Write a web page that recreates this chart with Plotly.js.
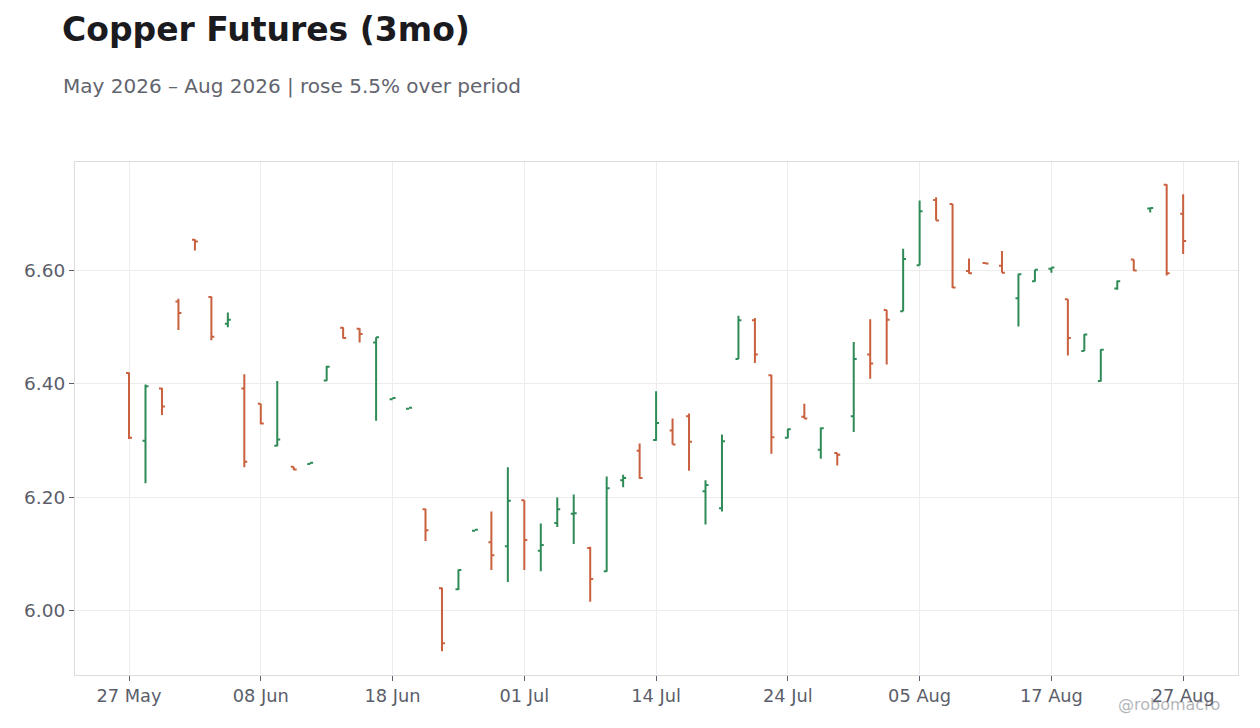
<!DOCTYPE html>
<html>
<head>
<meta charset="utf-8">
<script src="https://cdn.plot.ly/plotly-3.0.1.min.js"></script>
<style>
  html, body { margin: 0; padding: 0; background: #ffffff; }
  #chart { width: 1260px; height: 728px; }
</style>
</head>
<body>
<div id="chart"></div>
<script>
// Trading days (weekends and holidays skipped)
const dates = [
  '2026-05-27', '2026-05-28', '2026-05-29',
  '2026-06-01', '2026-06-02', '2026-06-03', '2026-06-04', '2026-06-05',
  '2026-06-08', '2026-06-09', '2026-06-10', '2026-06-11', '2026-06-12',
  '2026-06-15', '2026-06-16', '2026-06-17', '2026-06-18',
  '2026-06-22', '2026-06-23', '2026-06-24', '2026-06-25', '2026-06-26',
  '2026-06-29', '2026-06-30', '2026-07-01', '2026-07-02',
  '2026-07-06', '2026-07-07', '2026-07-08', '2026-07-09', '2026-07-10',
  '2026-07-13', '2026-07-14', '2026-07-15', '2026-07-16', '2026-07-17',
  '2026-07-20', '2026-07-21', '2026-07-22', '2026-07-23', '2026-07-24',
  '2026-07-27', '2026-07-28', '2026-07-29', '2026-07-30', '2026-07-31',
  '2026-08-03', '2026-08-04', '2026-08-05', '2026-08-06', '2026-08-07',
  '2026-08-10', '2026-08-11', '2026-08-12', '2026-08-13', '2026-08-14',
  '2026-08-17', '2026-08-18', '2026-08-19', '2026-08-20', '2026-08-21',
  '2026-08-24', '2026-08-25', '2026-08-26', '2026-08-27'
];

const openPrices = [
  6.419, 6.300, 6.392, 6.545, 6.654, 6.553, 6.506, 6.392, 6.365, 6.291,
  6.254, 6.259, 6.406, 6.499, 6.497, 6.473, 6.373, 6.356, 6.179, 6.040,
  6.038, 6.141, 6.121, 6.114, 6.195, 6.106, 6.155, 6.171, 6.111, 6.070,
  6.230, 6.282, 6.301, 6.318, 6.343, 6.211, 6.181, 6.444, 6.512, 6.415,
  6.305, 6.342, 6.284, 6.278, 6.343, 6.452, 6.530, 6.528, 6.609, 6.724,
  6.717, 6.599, 6.613, 6.608, 6.551, 6.581, 6.603, 6.549, 6.458, 6.405,
  6.568, 6.619, 6.709, 6.751, 6.700
];
const highPrices = [
  6.420, 6.399, 6.393, 6.550, 6.655, 6.554, 6.526, 6.417, 6.365, 6.405,
  6.254, 6.261, 6.432, 6.500, 6.498, 6.482, 6.375, 6.358, 6.180, 6.041,
  6.073, 6.143, 6.175, 6.253, 6.195, 6.154, 6.200, 6.205, 6.113, 6.237,
  6.240, 6.295, 6.387, 6.339, 6.348, 6.230, 6.311, 6.520, 6.516, 6.416,
  6.321, 6.365, 6.323, 6.278, 6.474, 6.514, 6.530, 6.638, 6.723, 6.729,
  6.717, 6.621, 6.613, 6.634, 6.594, 6.601, 6.605, 6.549, 6.488, 6.461,
  6.582, 6.619, 6.710, 6.752, 6.734
];
const lowPrices = [
  6.303, 6.225, 6.345, 6.495, 6.635, 6.477, 6.500, 6.253, 6.329, 6.290,
  6.248, 6.259, 6.405, 6.480, 6.473, 6.335, 6.373, 6.356, 6.123, 5.929,
  6.037, 6.141, 6.072, 6.051, 6.072, 6.070, 6.148, 6.118, 6.016, 6.069,
  6.218, 6.233, 6.300, 6.293, 6.247, 6.152, 6.175, 6.444, 6.437, 6.277,
  6.304, 6.339, 6.268, 6.256, 6.315, 6.409, 6.434, 6.528, 6.609, 6.688,
  6.569, 6.594, 6.612, 6.596, 6.501, 6.580, 6.596, 6.450, 6.458, 6.404,
  6.566, 6.599, 6.702, 6.591, 6.629
];
const closePrices = [
  6.305, 6.396, 6.360, 6.525, 6.651, 6.483, 6.513, 6.263, 6.330, 6.302,
  6.249, 6.261, 6.430, 6.481, 6.488, 6.482, 6.375, 6.358, 6.142, 5.943,
  6.072, 6.143, 6.098, 6.194, 6.125, 6.116, 6.179, 6.172, 6.056, 6.216,
  6.234, 6.234, 6.331, 6.293, 6.298, 6.222, 6.299, 6.512, 6.452, 6.306,
  6.320, 6.339, 6.322, 6.275, 6.444, 6.436, 6.513, 6.620, 6.704, 6.688,
  6.570, 6.595, 6.612, 6.596, 6.593, 6.601, 6.605, 6.481, 6.487, 6.460,
  6.581, 6.600, 6.710, 6.595, 6.652
];

// x tick labels
const tickDates = ['2026-05-27', '2026-06-08', '2026-06-18', '2026-07-01', '2026-07-14',
  '2026-07-24', '2026-08-05', '2026-08-17', '2026-08-27'];
const tickLabels = ['27 May', '08 Jun', '18 Jun', '01 Jul', '14 Jul',
  '24 Jul', '05 Aug', '17 Aug', '27 Aug'];

const upColor = '#2e8b57';
const downColor = '#c9603e';
const fontFamily = 'DejaVu Sans, sans-serif';

var trace = {
  type: 'ohlc',
  x: dates,
  open: openPrices,
  high: highPrices,
  low: lowPrices,
  close: closePrices,
  tickwidth: 0.18,
  increasing: { line: { color: upColor, width: 2 } },
  decreasing: { line: { color: downColor, width: 2 } },
  hoverinfo: 'skip',
  showlegend: false,
};

var layout = {
  width: 1260,
  height: 728,
  margin: { l: 75, r: 22, t: 162, b: 53, pad: 0 },
  paper_bgcolor: '#ffffff',
  plot_bgcolor: '#ffffff',
  font: { family: fontFamily, size: 18, color: '#5b5e6a' },
  title: {
    text: '<b>Copper Futures (3mo)</b>',
    font: { family: fontFamily, size: 33, color: '#1b1b1f' },
    xref: 'container',
    x: 62 / 1260,
    xanchor: 'left',
    yref: 'container',
    y: 1 - 29 / 728,
    yanchor: 'middle',
  },
  xaxis: {
    type: 'category',
    range: [-3.28, 67.33],
    tickmode: 'array',
    tickvals: tickDates,
    ticktext: tickLabels,
    ticks: 'outside',
    ticklen: 5,
    tickcolor: '#5b5e6a',
    showgrid: true,
    gridcolor: '#ececec',
    showline: true,
    linecolor: '#dcdcdc',
    mirror: true,
    zeroline: false,
    rangeslider: { visible: false },
    tickfont: { family: fontFamily, size: 17.8, color: '#5b5e6a' },
  },
  yaxis: {
    range: [5.887, 6.791],
    tickmode: 'linear',
    tick0: 6.0,
    dtick: 0.2,
    tickformat: '.2f',
    ticks: 'outside',
    ticklen: 5,
    tickcolor: '#5b5e6a',
    showgrid: true,
    gridcolor: '#ececec',
    showline: true,
    linecolor: '#dcdcdc',
    mirror: true,
    zeroline: false,
    tickfont: { family: fontFamily, size: 18.5, color: '#5b5e6a' },
  },
  annotations: [
    {
      text: 'May 2026 \u2013 Aug 2026 | rose 5.5% over period',
      xref: 'paper',
      yref: 'paper',
      x: (61 - 75) / 1163,
      y: 1 + (162 - 86) / 513,
      xanchor: 'left',
      yanchor: 'middle',
      showarrow: false,
      font: { family: fontFamily, size: 20, color: '#62646e' },
    },
    {
      text: '@robomacro',
      xref: 'paper',
      yref: 'paper',
      x: (1222 - 75) / 1163,
      y: (675 - 704) / 513,
      xanchor: 'right',
      yanchor: 'middle',
      showarrow: false,
      opacity: 0.5,
      font: { family: fontFamily, size: 16, color: '#6b6e78' },
    },
  ],
};

var config = { responsive: false, displayModeBar: false, staticPlot: true };

Plotly.newPlot('chart', [trace], layout, config);
</script>
</body>
</html>
